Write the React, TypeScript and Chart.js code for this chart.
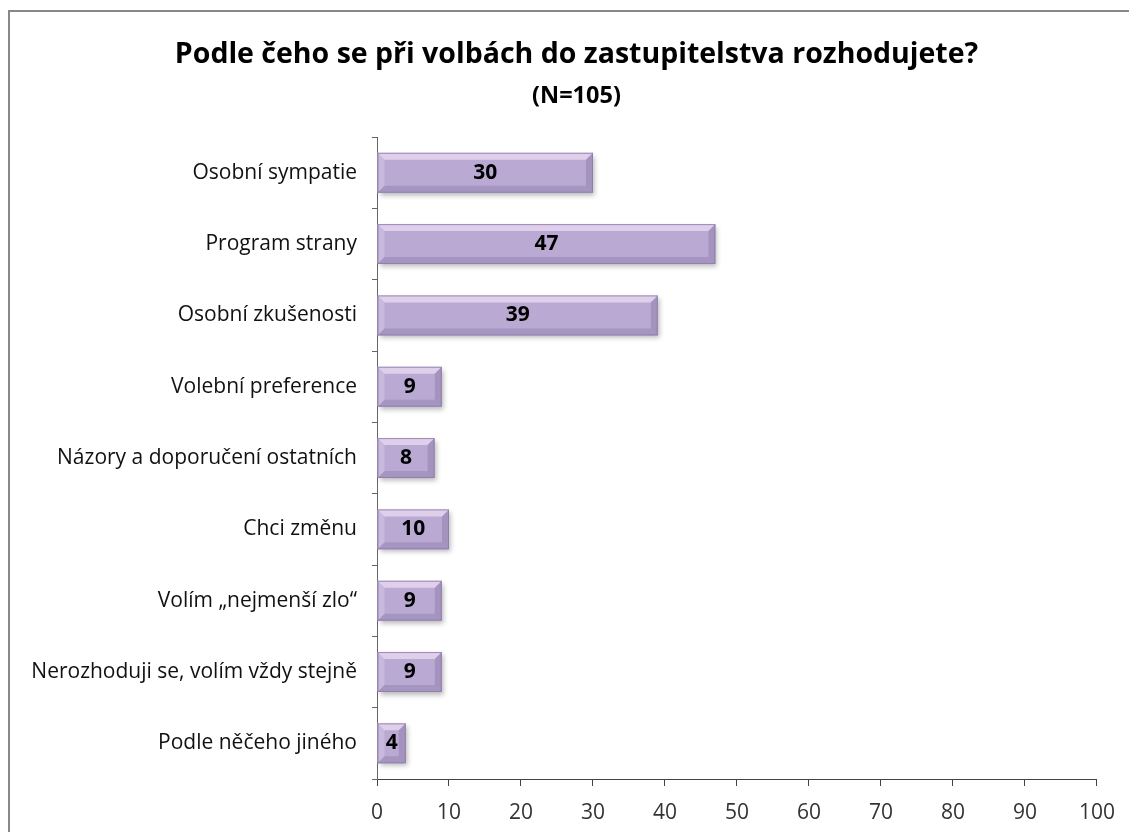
import React, { useEffect, useRef } from "react";
import { Chart, registerables } from "chart.js";

Chart.register(...registerables);

const TITLE = "Podle čeho se při volbách do zastupitelstva rozhodujete?";
const SUBTITLE = "(N=105)";
const categories = [
  "Osobní sympatie",
  "Program strany",
  "Osobní zkušenosti",
  "Volební preference",
  "Názory a doporučení ostatních",
  "Chci změnu",
  "Volím „nejmenší zlo“",
  "Nerozhoduji se, volím vždy stejně",
  "Podle něčeho jiného",
];
const values = [30, 47, 39, 9, 8, 10, 9, 9, 4];
const X_MIN = 0;
const X_MAX = 100;
const X_STEP = 10;

const FONT = "'Open Sans', 'Noto Sans', sans-serif";

// keep long category labels from being clipped by the y scale's label area
const labelAreaPlugin = {
  id: "labelArea",
  afterLayout(chart: any) {
    const y = chart.scales.y;
    if (y) y.left = 0;
  },
};

const bevelPlugin = {
  id: "bevel",
  beforeDatasetsDraw(chart: any) {
    const ctx = chart.ctx;
    ctx.save();
    ctx.shadowColor = "rgba(0,0,0,0.28)";
    ctx.shadowBlur = 5;
    ctx.shadowOffsetX = 2;
    ctx.shadowOffsetY = 3;
  },
  afterDatasetsDraw(chart: any) {
    const ctx = chart.ctx;
    ctx.restore();
    const meta = chart.getDatasetMeta(0);
    meta.data.forEach((el: any, i: number) => {
      const p = el.getProps(["x", "y", "base", "height"], true);
      const left = Math.min(p.base, p.x);
      const right = Math.max(p.base, p.x);
      const top = p.y - p.height / 2;
      const bottom = p.y + p.height / 2;
      const w = right - left;
      const h = bottom - top;
      const b = Math.min(7, w / 3, h / 4);
      ctx.save();
      const poly = (pts: number[][], color: string) => {
        ctx.beginPath();
        ctx.moveTo(pts[0][0], pts[0][1]);
        for (let k = 1; k < pts.length; k++) ctx.lineTo(pts[k][0], pts[k][1]);
        ctx.closePath();
        ctx.fillStyle = color;
        ctx.fill();
      };
      poly([[left, top], [right, top], [right - b, top + b], [left + b, top + b]], "rgba(255,238,255,0.55)");
      poly([[left, top], [left + b, top + b], [left + b, bottom - b], [left, bottom]], "rgba(255,245,255,0.22)");
      poly([[left, bottom], [left + b, bottom - b], [right - b, bottom - b], [right, bottom]], "rgba(80,60,110,0.18)");
      poly([[right, top], [right, bottom], [right - b, bottom - b], [right - b, top + b]], "rgba(80,60,110,0.2)");
      ctx.strokeStyle = "rgba(140,120,170,0.8)";
      ctx.lineWidth = 1;
      ctx.strokeRect(left + 0.5, top + 0.5, w - 1, h - 1);
      ctx.fillStyle = "#000";
      ctx.font = `bold 21px ${FONT}`;
      ctx.textAlign = "center";
      ctx.textBaseline = "middle";
      ctx.fillText(String(values[i]), (left + right) / 2, p.y);
      ctx.restore();
    });
  },
};

export default function App() {
  const ref = useRef<HTMLCanvasElement>(null);
  useEffect(() => {
    if (!ref.current) return;
    const chart = new Chart(ref.current, {
      type: "bar",
      data: {
        labels: categories,
        datasets: [
          {
            data: values,
            backgroundColor: "#B9A9D3",
            borderWidth: 0,
            categoryPercentage: 1,
            barPercentage: 0.56,
          },
        ],
      },
      options: {
        indexAxis: "y",
        animation: false,
        responsive: false,
        maintainAspectRatio: false,
        layout: { padding: { left: 56, right: 32, top: 0, bottom: 0 } },
        plugins: {
          legend: { display: false },
          tooltip: { enabled: false },
          title: {
            display: true,
            text: TITLE,
            color: "#000",
            font: { family: FONT, size: 28.5, weight: "bold" },
            padding: { top: 37.5, bottom: 5 },
          },
          subtitle: {
            display: true,
            text: SUBTITLE,
            color: "#000",
            font: { family: FONT, size: 23.5, weight: "bold" },
            padding: { top: 5.2, bottom: 27 },
          },
        },
        scales: {
          x: {
            type: "linear",
            min: X_MIN,
            max: X_MAX,
            ticks: {
              stepSize: X_STEP,
              color: "#333",
              font: { family: FONT, size: 21 },
              padding: 14,
            },
            grid: { drawOnChartArea: false, tickLength: 7, color: "#444" },
            border: { display: true, color: "#444", width: 1 },
            afterFit: (s: any) => {
              s.height = 53;
            },
          },
          y: {
            type: "category",
            ticks: {
              color: "#111",
              font: { family: FONT, size: 21 },
              padding: 15,
            },
            grid: { drawOnChartArea: false, tickLength: 5, color: "#666", offset: true },
            border: { display: true, color: "#666", width: 1 },
            afterFit: (s: any) => {
              s.width = 321;
            },
          },
        },
      },
      plugins: [labelAreaPlugin, bevelPlugin],
    } as any);
    return () => chart.destroy();
  }, []);

  return (
    <div style={{ position: "fixed", left: 0, top: 0, width: 1129, height: 832, overflow: "hidden", background: "#fff" }}>
      <div
        style={{
          position: "absolute",
          left: 8,
          top: 10,
          width: 1200,
          height: 900,
          border: "2px solid #888",
        }}
      />
      <canvas ref={ref} width={1129} height={832} style={{ position: "absolute", left: 0, top: 0 }} />
    </div>
  );
}
